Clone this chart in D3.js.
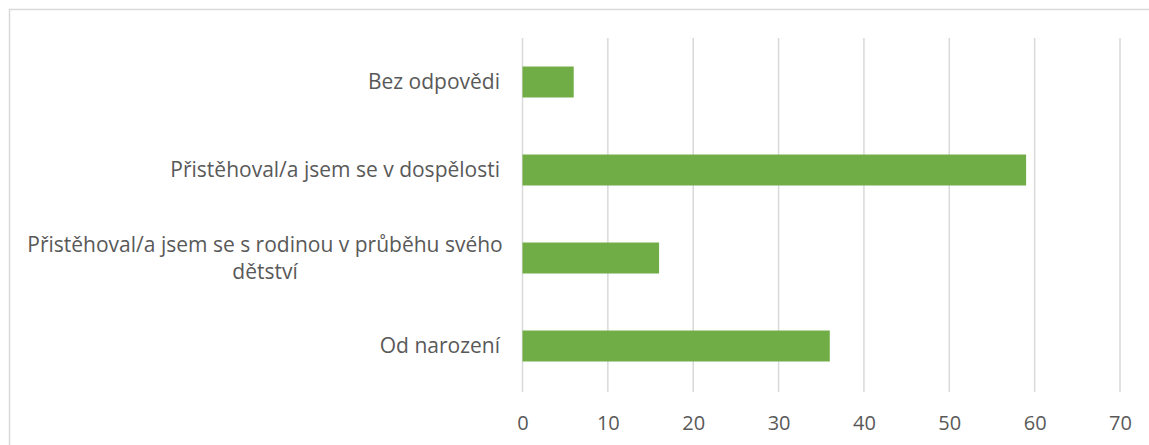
<!DOCTYPE html>
<html>
<head>
<meta charset="utf-8">
<script src="https://cdn.jsdelivr.net/npm/d3@7"></script>
<style>
  body { margin: 0; background: #fff; }
  text { font-family: "Open Sans", sans-serif; fill: #595959; }
</style>
</head>
<body>
<div id="chart"></div>
<script>
var width = 1149;
var height = 445;

var categories = ["Bez odpovědi", "Přistěhoval/a jsem se v dospělosti", "Přistěhoval/a jsem se s rodinou v průběhu svého dětství", "Od narození"];
var labelLines = [["Bez odpovědi"], ["Přistěhoval/a jsem se v dospělosti"], ["Přistěhoval/a jsem se s rodinou v průběhu svého", "dětství"], ["Od narození"]];
var values = [6, 59, 16, 36];
var xTicks = [0, 10, 20, 30, 40, 50, 60, 70];

var labelSize = "21px";
var tickSize = "20px";

var svg = d3.select("#chart")
    .append("svg")
    .attr("width", width)
    .attr("height", height);

// chart border (right and bottom edges fall outside the picture)
svg.append("rect")
    .attr("x", 9.5)
    .attr("y", 9.5)
    .attr("width", 1200)
    .attr("height", 500)
    .attr("fill", "none")
    .attr("stroke", "#d9d9d9")
    .attr("stroke-width", 1.5);

var xScale = d3.scaleLinear().domain([0, 70]).range([522.5, 1120]);
var yScale = d3.scaleBand().domain(categories).range([38, 390]).paddingInner(0.648).paddingOuter(0.324);

// gridlines
svg.append("g")
    .selectAll("line")
    .data(xTicks)
    .enter()
    .append("line")
    .attr("x1", function(d) { return xScale(d); })
    .attr("x2", function(d) { return xScale(d); })
    .attr("y1", 38)
    .attr("y2", 392)
    .attr("stroke", "#d9d9d9")
    .attr("stroke-width", 1.5);

// x axis labels
var xAxis = d3.axisBottom().scale(xScale).tickValues(xTicks).tickSize(0).tickPadding(0);
var gx = svg.append("g")
    .attr("transform", "translate(0,423)")
    .call(xAxis);
gx.select(".domain").remove();
gx.selectAll("text")
    .attr("dy", "0.35em")
    .style("font-size", tickSize)
    .style("fill", "#595959")
    .style("font-family", "'Open Sans', sans-serif");

// bars
svg.append("g")
    .selectAll("rect")
    .data(values)
    .enter()
    .append("rect")
    .attr("x", xScale(0))
    .attr("y", function(d, i) { return yScale(categories[i]); })
    .attr("width", function(d) { return xScale(d) - xScale(0); })
    .attr("height", yScale.bandwidth())
    .attr("fill", "#70ad47");

// category labels
var labels = svg.append("g")
    .selectAll("text")
    .data(labelLines)
    .enter()
    .append("text")
    .style("font-size", labelSize)
    .attr("text-anchor", function(d) { return d.length > 1 ? "middle" : "end"; })
    .attr("transform", function(d, i) {
        var cy = yScale(categories[i]) + yScale.bandwidth() / 2;
        var x = d.length > 1 ? 265 : 500;
        return "translate(" + x + "," + cy + ")";
    });

labels.selectAll("tspan")
    .data(function(d) { return d; })
    .enter()
    .append("tspan")
    .attr("x", 0)
    .attr("y", function(d, i, nodes) {
        return (i - (nodes.length - 1) / 2) * 27;
    })
    .attr("dy", "0.35em")
    .text(function(d) { return d; });
</script>
</body>
</html>
